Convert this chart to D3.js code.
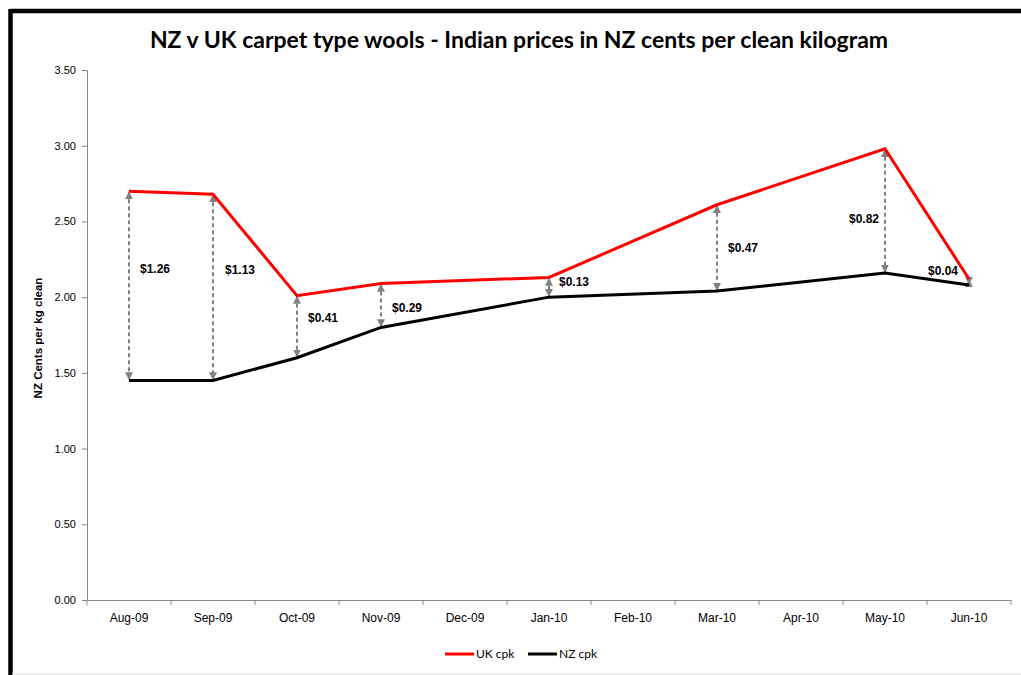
<!DOCTYPE html>
<html><head><meta charset="utf-8">
<script src="https://cdn.jsdelivr.net/npm/d3@7"></script>
<style>
body{margin:0;background:#fff;}
svg{display:block;}
</style></head>
<body>
<svg id="c" width="1021" height="675"></svg>
<script>
const months = ["Aug-09","Sep-09","Oct-09","Nov-09","Dec-09","Jan-10","Feb-10","Mar-10","Apr-10","May-10","Jun-10"];
const ukValues = [2.70, 2.68, 2.01, 2.09, null, 2.13, null, 2.61, null, 2.98, 2.12];
const nzValues = [1.45, 1.45, 1.60, 1.80, null, 2.00, null, 2.04, null, 2.16, 2.08];
const gapLabels = ["$1.26","$1.13","$0.41","$0.29",null,"$0.13",null,"$0.47",null,"$0.82","$0.04"];
const yTicks = [0,0.5,1,1.5,2,2.5,3,3.5];
const title = "NZ v UK carpet type wools - Indian prices in NZ cents per clean kilogram";
const yTitle = "NZ Cents per kg clean";
const seriesNames = ["UK cpk","NZ cpk"];

(function(){
const svg = d3.select("#c");
const pL = 87, pR = 1011, pT = 70, pB = 600;

// frame
svg.append("rect").attr("x",0).attr("y",0).attr("width",1021).attr("height",675).attr("fill","#fff");
svg.append("line").attr("x1",10.5).attr("x2",1021).attr("y1",11).attr("y2",11).attr("stroke","#000").attr("stroke-width",4.5);
svg.append("line").attr("x1",10.5).attr("x2",10.5).attr("y1",9).attr("y2",675).attr("stroke","#000").attr("stroke-width",4.5);
svg.append("line").attr("x1",12).attr("x2",1021).attr("y1",674).attr("y2",674).attr("stroke","#e4e4e4").attr("stroke-width",1);

const x = d3.scaleBand().domain(months).range([pL,pR]).padding(0);
const y = d3.scaleLinear().domain([0,3.5]).range([pB,pT]);
const cx = m => x(m) + x.bandwidth()/2;

// title
svg.append("text").attr("x",519).attr("y",48).attr("text-anchor","middle")
  .attr("font-family","Lato, 'Open Sans', sans-serif").attr("font-weight","bold").attr("font-size",23)
  .attr("fill","#000").text(title);

// y axis
const ya = svg.append("g").attr("transform",`translate(${pL},0)`)
  .call(d3.axisLeft(y).tickValues(yTicks).tickFormat(d3.format(".2f")).tickSizeOuter(0).tickSize(5));
ya.select(".domain").attr("stroke","#888");
ya.selectAll(".tick line").attr("stroke","#888");
ya.selectAll("text").attr("font-family","'Liberation Sans', Arial, sans-serif").attr("font-size",11).attr("fill","#000").attr("dx",-3);

// x axis
const xa = svg.append("g").attr("transform",`translate(0,${pB})`)
  .call(d3.axisBottom(x).tickSize(0).tickSizeOuter(0));
xa.select(".domain").attr("stroke","#888");
xa.selectAll("text").attr("font-family","'Liberation Sans', Arial, sans-serif").attr("font-size",12).attr("fill","#000").attr("dy",19);
const bounds = months.map(m => x(m)).concat([pR]);
svg.append("g").selectAll("line").data(bounds).join("line")
  .attr("x1",d=>d).attr("x2",d=>d).attr("y1",pB).attr("y2",pB+5).attr("stroke","#888");

// y title
svg.append("text").attr("transform",`translate(42,338) rotate(-90)`).attr("text-anchor","middle")
  .attr("font-family","'Liberation Sans', Arial, sans-serif").attr("font-weight","bold").attr("font-size",11.5)
  .attr("fill","#000").text(yTitle);

// arrows
const defs = svg.append("defs");
defs.append("marker").attr("id","ah").attr("viewBox","0 0 10 10").attr("refX",9).attr("refY",5)
  .attr("markerWidth",4).attr("markerHeight",4).attr("orient","auto-start-reverse").attr("markerUnits","strokeWidth")
  .append("path").attr("d","M0,0 L10,5 L0,10 z").attr("fill","#808080");

const idx = months.map((m,i)=>i).filter(i => ukValues[i]!==null);
svg.append("g").selectAll("line").data(idx).join("line")
  .attr("x1",i=>cx(months[i])).attr("x2",i=>cx(months[i]))
  .attr("y1",i=>y(ukValues[i])+1).attr("y2",i=>y(nzValues[i])-1)
  .attr("stroke","#808080").attr("stroke-width",2).attr("stroke-dasharray","4,3")
  .attr("marker-start","url(#ah)").attr("marker-end","url(#ah)");

// lines
const lineGen = vals => d3.line().x(i=>cx(months[i])).y(i=>y(vals[i]))(idx);
svg.append("path").attr("d",lineGen(nzValues)).attr("fill","none").attr("stroke","#000").attr("stroke-width",3);
svg.append("path").attr("d",lineGen(ukValues)).attr("fill","none").attr("stroke","#ff0000").attr("stroke-width",3);

// gap labels: dx offset from arrow, f = fraction of the way from UK to NZ line
const labelPos = {0:{dx:11,f:0.41,a:"start"},1:{dx:12,f:0.405,a:"start"},2:{dx:11,f:0.36,a:"start"},3:{dx:11,f:0.55,a:"start"},
  5:{dx:10,f:0.2,a:"start"},7:{dx:11,f:0.49,a:"start"},9:{dx:-6,f:0.56,a:"end"},10:{dx:-11,f:null,a:"end"}};
svg.append("g").selectAll("text").data(idx).join("text")
  .attr("x",i=>cx(months[i])+labelPos[i].dx)
  .attr("y",i=>{
    const p = labelPos[i];
    if(p.f===null) return y(ukValues[i]) - 4;
    return y(ukValues[i]) + p.f*(y(nzValues[i])-y(ukValues[i])) + 4.5;
  })
  .attr("text-anchor",i=>labelPos[i].a)
  .attr("font-family","'Liberation Sans', Arial, sans-serif").attr("font-weight","bold").attr("font-size",12)
  .attr("fill","#000").text(i=>gapLabels[i]);

// legend
const leg = svg.append("g").attr("font-family","Lato, 'Open Sans', sans-serif").attr("font-size",12);
const legX = [445,528], colors = ["#ff0000","#000"];
seriesNames.forEach((n,k)=>{
  leg.append("line").attr("x1",legX[k]).attr("x2",legX[k]+29).attr("y1",654).attr("y2",654).attr("stroke",colors[k]).attr("stroke-width",3);
  leg.append("text").attr("x",legX[k]+31).attr("y",658).attr("fill","#000").text(n);
});
})();
</script>
</body></html>
